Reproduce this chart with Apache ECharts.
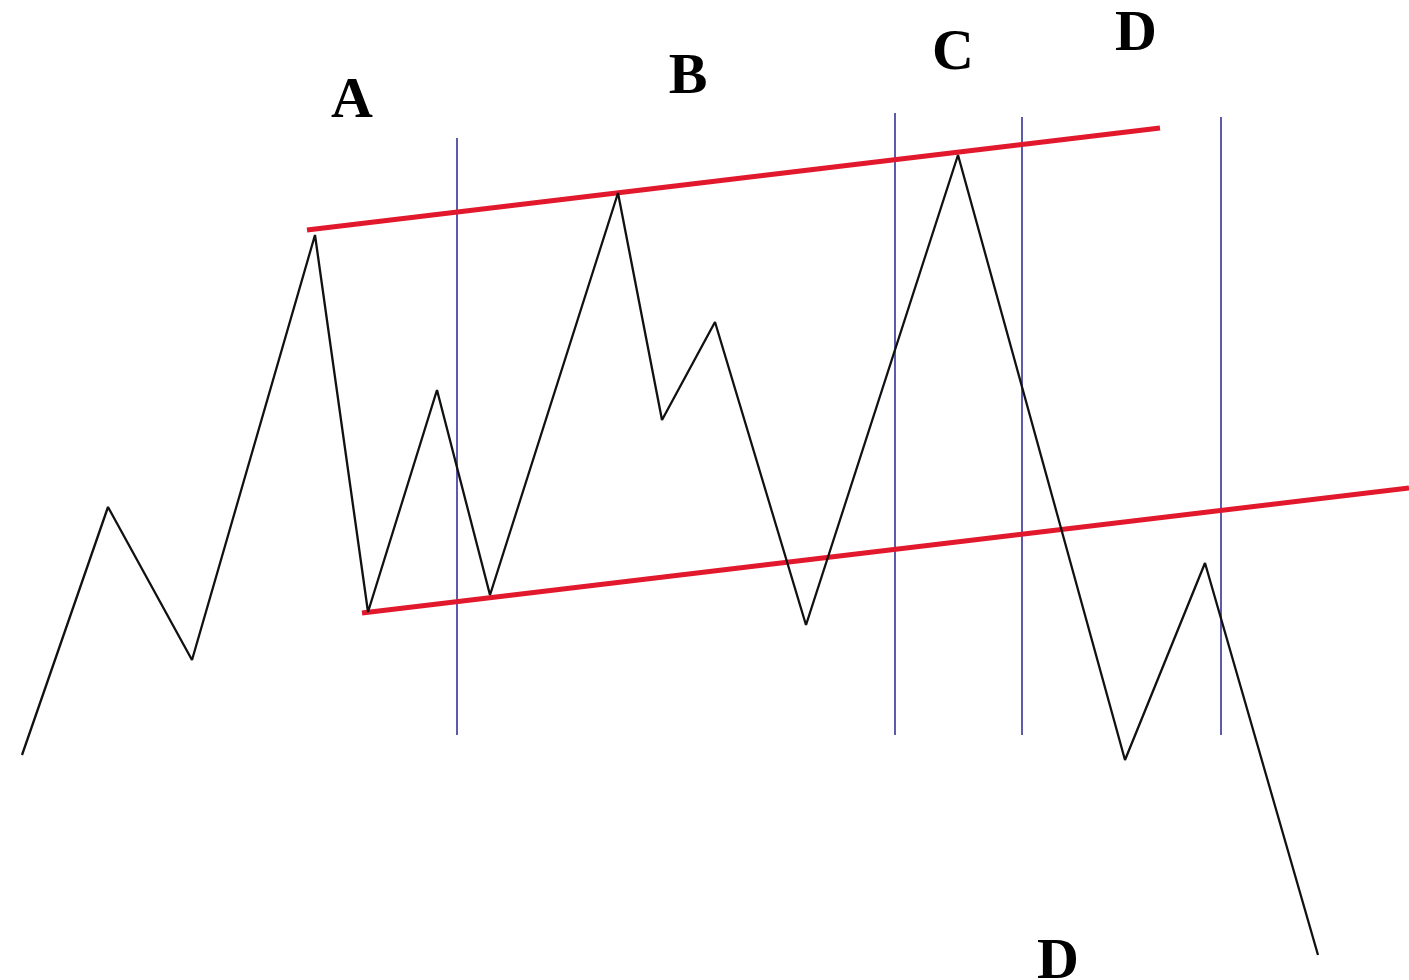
<!DOCTYPE html>
<html>
<head>
<meta charset="utf-8">
<script src="https://cdn.jsdelivr.net/npm/echarts@6/dist/echarts.min.js"></script>
<style>
  html, body { margin: 0; padding: 0; background: #fff; }
  #main { width: 1409px; height: 980px; }
</style>
</head>
<body>
<div id="main"></div>
<script>
// zigzag price path (x, y in drawing units, y grows downward)
var priceX = [22, 108, 192, 315, 368, 437, 490, 618, 662, 715, 806, 958, 1125, 1205, 1318];
var priceY = [755, 507, 660, 235, 612, 390, 595, 193, 420, 322, 625, 155, 760, 563, 955];

// channel lines
var upperX = [307, 1160];
var upperY = [230, 128];
var lowerX = [362, 1409];
var lowerY = [613, 488];

// vertical markers
var markerX = [457, 895, 1022, 1221];
var markerTop = [138, 113, 117, 117];
var markerBottom = [735, 735, 735, 735];

// letters
var labelText = ['A', 'B', 'C', 'D', 'D'];
var labelX = [352, 688, 953, 1136, 1058];
var labelY = [102, 78, 54, 35, 963];

var myChart = echarts.init(document.getElementById('main'));

var zip = function (xs, ys) {
    var res = [];
    for (var i = 0; i < xs.length; i++) {
        res.push([xs[i], ys[i]]);
    }
    return res;
};

var series = [];

// blue verticals first so the lines sit on top
for (var i = 0; i < markerX.length; i++) {
    series.push({
        type: 'line',
        data: [[markerX[i], markerTop[i]], [markerX[i], markerBottom[i]]],
        symbol: 'none',
        lineStyle: { color: '#5c5caa', width: 2 },
        z: 1
    });
}

series.push({
    type: 'line',
    data: zip(upperX, upperY),
    symbol: 'none',
    lineStyle: { color: '#e2182c', width: 5 },
    z: 2
});
series.push({
    type: 'line',
    data: zip(lowerX, lowerY),
    symbol: 'none',
    lineStyle: { color: '#e2182c', width: 5 },
    z: 2
});

series.push({
    type: 'line',
    data: zip(priceX, priceY),
    symbol: 'none',
    lineStyle: { color: '#111111', width: 2.3 },
    z: 3
});

var labelData = [];
for (var j = 0; j < labelText.length; j++) {
    labelData.push({ value: [labelX[j], labelY[j]], name: labelText[j] });
}
series.push({
    type: 'scatter',
    data: labelData,
    symbolSize: 0,
    itemStyle: { opacity: 1 },
    label: {
        show: true,
        position: 'inside',
        formatter: function (p) { return p.name; },
        color: '#000000',
        opacity: 1,
        fontFamily: 'Liberation Serif',
        fontWeight: 'bold',
        fontSize: 58
    },
    z: 4
});

option = {
    backgroundColor: '#ffffff',
    animation: false,
    grid: { left: 0, right: 0, top: 0, bottom: 0 },
    xAxis: {
        type: 'value',
        min: 0,
        max: 1409,
        show: false
    },
    yAxis: {
        type: 'value',
        min: 0,
        max: 980,
        inverse: true,
        show: false
    },
    series: series
};

myChart.setOption(option);
</script>
</body>
</html>
